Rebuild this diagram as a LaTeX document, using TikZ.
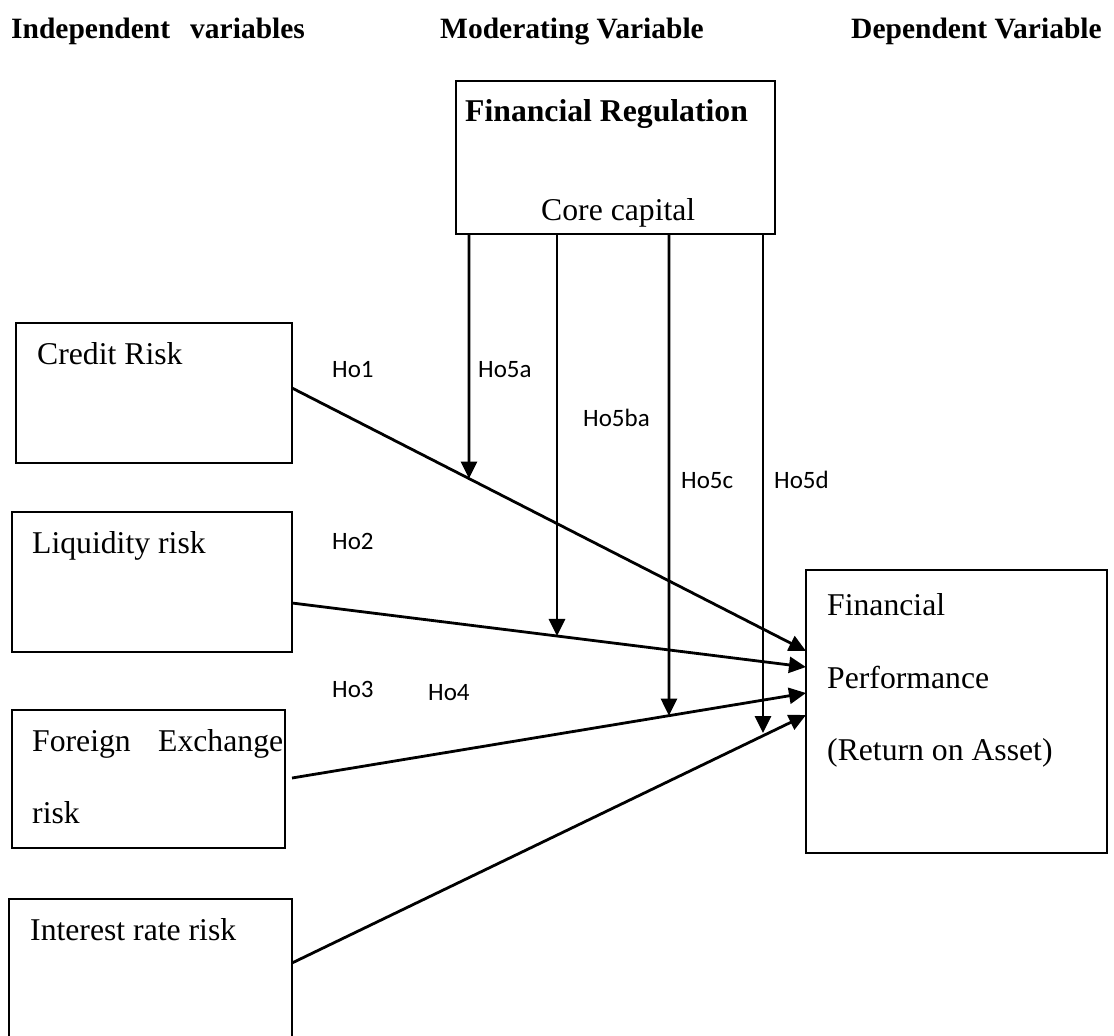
\documentclass[tikz,border=0pt]{standalone}
\usepackage{fontspec}
\setmainfont{Liberation Serif}
\newfontfamily\hofont{Carlito}
\usetikzlibrary{arrows.meta}
\begin{document}
\begin{tikzpicture}[x=1pt,y=-1pt,
  box/.style={draw, line width=1.9pt, inner sep=0pt, outer sep=0pt},
  txt/.style={anchor=base west, inner sep=0pt, font=\fontsize{31.7}{38}\selectfont},
  head/.style={anchor=base west, inner sep=0pt, font=\fontsize{29.5}{35}\selectfont\bfseries},
  ho/.style={anchor=base west, inner sep=0pt, font=\hofont\fontsize{25}{30}\selectfont},
  conn/.style={line width=2.8pt, -{Triangle[length=17pt,width=16pt]}}
]
\useasboundingbox (0,0) rectangle (1114,1036);

% headers
\node[head] (h1) at (11,38) {Independent};
\node[head] (h2) at (190,38) {variables};
\node[head] (h3) at (440,38) {Moderating Variable};
\node[head] (h4) at (851,38) {Dependent Variable};

% boxes
\node[box, minimum width=319pt, minimum height=153pt] (fr) at (615.5,157.5) {};
\node[box, minimum width=276pt, minimum height=140pt] (cr) at (154,393) {};
\node[box, minimum width=280pt, minimum height=140pt] (lq) at (152,582) {};
\node[box, minimum width=273pt, minimum height=138pt] (fx) at (148.5,779) {};
\node[box, minimum width=283pt, minimum height=142pt] (ir) at (150.5,970) {};
\node[box, minimum width=301pt, minimum height=283pt] (fp) at (956.5,711.5) {};

% box texts
\node[txt, font=\fontsize{31.7}{38}\selectfont\bfseries] (frt) at (465,121) {Financial Regulation};
\node[txt] (frc) at (541,220) {Core capital};
\node[txt] (crt) at (37,364) {Credit Risk};
\node[txt] (lqt) at (32,553) {Liquidity risk};
\node[txt] (fxa) at (32,751) {Foreign};
\node[txt] (fxb) at (158,751) {Exchange};
\node[txt] (fxc) at (32,823) {risk};
\node[txt] (irt) at (30,940) {Interest rate risk};
\node[txt] (fpa) at (827,615) {Financial};
\node[txt] (fpb) at (827,688) {Performance};
\node[txt] (fpc) at (827,760) {(Return on Asset)};

% hypothesis labels
\node[ho] (ho1) at (332,377) {Ho1};
\node[ho] (ho2) at (332,549) {Ho2};
\node[ho] (ho3) at (332,697) {Ho3};
\node[ho] (ho4) at (428,700) {Ho4};
\node[ho] (ho5a) at (478,377) {Ho5a};
\node[ho] (ho5b) at (583,426) {Ho5ba};
\node[ho] (ho5c) at (681,488) {Ho5c};
\node[ho] (ho5d) at (774,488) {Ho5d};

% connector end points
\coordinate (c1) at (292,388);
\coordinate (l1) at (292,603);
\coordinate (f1) at (292,778);
\coordinate (i1) at (292,963);
\coordinate (p1) at (806,651);
\coordinate (p2) at (806,667);
\coordinate (p3) at (806,693);
\coordinate (p4) at (806,715);
\coordinate (v1) at (469,234);
\coordinate (v2) at (557,234);
\coordinate (v3) at (669,234);
\coordinate (v4) at (763,234);
\coordinate (w1) at (469,1000);
\coordinate (w2) at (557,1000);
\coordinate (w3) at (669,1000);
\coordinate (t4) at (763,733);

% main connectors
\draw[conn] (c1) -- (p1);
\draw[conn] (l1) -- (p2);
\draw[conn] (f1) -- (p3);
\draw[conn] (i1) -- (p4);

% moderating connectors
\draw[conn] (v1) -- (intersection of v1--w1 and c1--p1);
\draw[conn] (v2) -- (intersection of v2--w2 and l1--p2);
\draw[conn] (v3) -- (intersection of v3--w3 and f1--p3);
\draw[conn] (v4) -- (t4);
\end{tikzpicture}
\end{document}
